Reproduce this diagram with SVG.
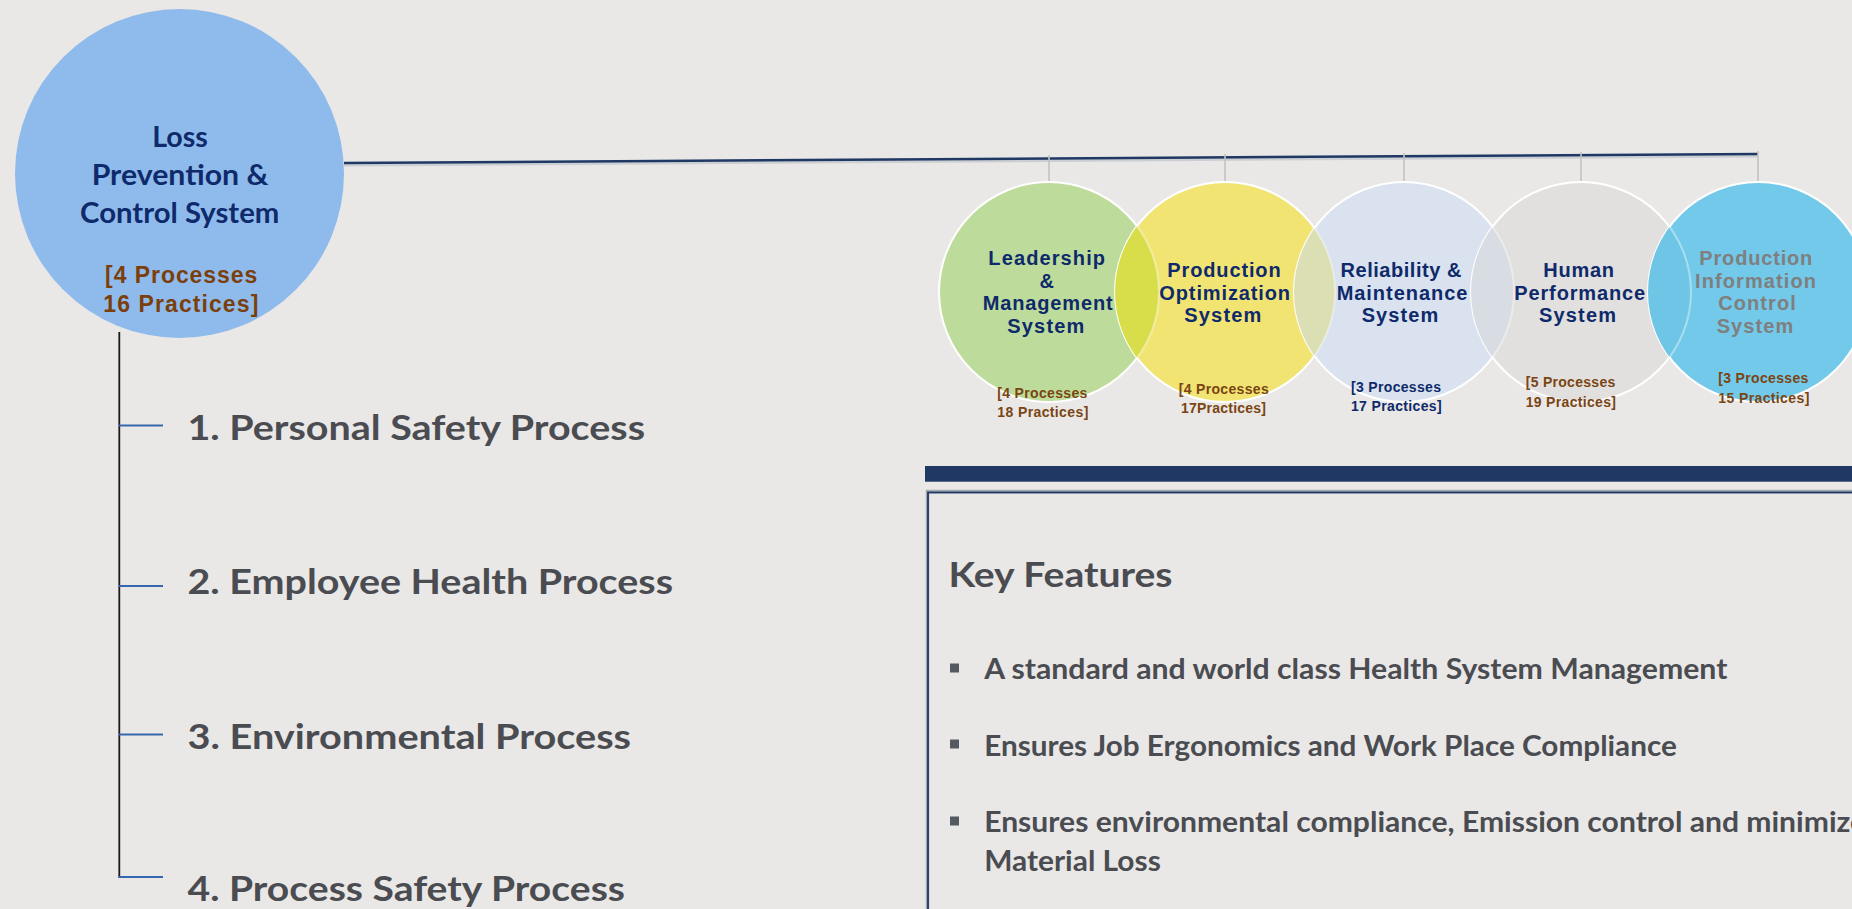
<svg xmlns="http://www.w3.org/2000/svg" width="1852" height="909" viewBox="0 0 1852 909">
<style>
.bg{fill:#E9E8E6}
.cal{font-family:Lato,"Open Sans","Noto Sans",sans-serif;font-weight:bold}
.ari{font-family:"Liberation Sans",Arial,sans-serif;font-weight:bold}
.navy{fill:#0F2A6B}
.brown{fill:#7A4513}
.dbrown{fill:#7A3F0C}
.gray{fill:#4A4C52}
.ring{stroke:#FFFFFF;stroke-width:2}
.stem{stroke:#C2C2C2;stroke-width:1.6}
.tick{stroke:#3566B0;stroke-width:1.8}
</style>
<defs>
<clipPath id="k1"><circle cx="1049" cy="292" r="110"/></clipPath>
<clipPath id="k2"><circle cx="1225" cy="292" r="110"/></clipPath>
<clipPath id="k3"><circle cx="1404" cy="292" r="110"/></clipPath>
<clipPath id="k4"><circle cx="1581" cy="292" r="110"/></clipPath>
<clipPath id="k5"><circle cx="1758" cy="292" r="110"/></clipPath>
</defs>
<rect class="bg" x="0" y="0" width="1852" height="909"/>

<g id="connectors" fill="none">
<line x1="344" y1="165" x2="1758" y2="156" stroke="#B8BCC4" stroke-width="3" opacity="0.6"/>
<line x1="344" y1="163" x2="1758" y2="154" stroke="#1F3864" stroke-width="2.5"/>
<line class="stem" x1="1049" y1="155" x2="1049" y2="189"/>
<line class="stem" x1="1225" y1="154" x2="1225" y2="189"/>
<line class="stem" x1="1404" y1="153" x2="1404" y2="189"/>
<line class="stem" x1="1581" y1="152" x2="1581" y2="189"/>
<line class="stem" x1="1758" y1="151" x2="1758" y2="189"/>
<line x1="119.3" y1="332" x2="119.3" y2="878" stroke="#1A1A1A" stroke-width="1.8"/>
<line class="tick" x1="119" y1="425.5" x2="163" y2="425.5"/>
<line class="tick" x1="119" y1="586" x2="163" y2="586"/>
<line class="tick" x1="119" y1="734.5" x2="163" y2="734.5"/>
<line class="tick" x1="119" y1="877" x2="163" y2="877"/>
</g>

<g id="node-main">
<circle cx="179.5" cy="173.5" r="164.5" fill="#8FBBEC"/>
<text class="cal navy" x="180" y="146.7" font-size="28" text-anchor="middle" textLength="55.7" lengthAdjust="spacingAndGlyphs">Loss</text>
<text class="cal navy" x="180" y="185" font-size="28" text-anchor="middle" textLength="176.7" lengthAdjust="spacingAndGlyphs">Prevention &amp;</text>
<text class="cal navy" x="179.7" y="222.7" font-size="28" text-anchor="middle" textLength="199.3" lengthAdjust="spacingAndGlyphs">Control System</text>
<text class="ari dbrown" x="181.2" y="282.7" font-size="23" text-anchor="middle" textLength="152.3" lengthAdjust="spacing">[4 Processes</text>
<text class="ari dbrown" x="180.8" y="311.7" font-size="23" text-anchor="middle" textLength="155" lengthAdjust="spacing">16 Practices]</text>
</g>

<g id="circles-base">
<circle class="ring" cx="1049" cy="292" r="110" fill="#BDDC9B"/>
<circle class="ring" cx="1225" cy="292" r="110" fill="#F1E473"/>
<circle class="ring" cx="1404" cy="292" r="110" fill="#D9E2EE"/>
<circle class="ring" cx="1581" cy="292" r="110" fill="#E1E0DE"/>
<circle class="ring" cx="1758" cy="292" r="110" fill="#72C9E9"/>
<circle cx="1225" cy="292" r="110" fill="#D8DE4A" clip-path="url(#k1)"/>
<circle cx="1404" cy="292" r="110" fill="#DCDFB4" clip-path="url(#k2)"/>
<circle cx="1581" cy="292" r="110" fill="#D8DCE3" clip-path="url(#k3)"/>
<circle cx="1758" cy="292" r="110" fill="#6EC5E5" clip-path="url(#k4)"/>
<circle cx="1049" cy="292" r="110" fill="none" stroke="#FFFFFF" stroke-width="2" opacity="0.4" clip-path="url(#k2)"/>
<circle cx="1225" cy="292" r="110" fill="none" stroke="#FFFFFF" stroke-width="2" opacity="0.4" clip-path="url(#k3)"/>
<circle cx="1404" cy="292" r="110" fill="none" stroke="#FFFFFF" stroke-width="2" opacity="0.4" clip-path="url(#k4)"/>
<circle cx="1581" cy="292" r="110" fill="none" stroke="#FFFFFF" stroke-width="2" opacity="0.4" clip-path="url(#k5)"/>
</g>

<g id="node-leadership">
<text class="ari navy" x="1046.7" y="265" font-size="20" text-anchor="middle" textLength="116.7" lengthAdjust="spacing">Leadership</text>
<text class="ari navy" x="1046.7" y="288.3" font-size="20" text-anchor="middle">&amp;</text>
<text class="ari navy" x="1047.7" y="310" font-size="20" text-anchor="middle" textLength="130" lengthAdjust="spacing">Management</text>
<text class="ari navy" x="1045.8" y="332.7" font-size="20" text-anchor="middle" textLength="77" lengthAdjust="spacing">System</text>
<text class="ari brown" x="1042.3" y="398.3" font-size="14" text-anchor="middle" textLength="90" lengthAdjust="spacing">[4 Processes</text>
<text class="ari brown" x="1042.8" y="417.3" font-size="14" text-anchor="middle" textLength="91" lengthAdjust="spacing">18 Practices]</text>
</g>

<g id="node-production-optimization">
<text class="ari navy" x="1224" y="276.7" font-size="20" text-anchor="middle" textLength="113.3" lengthAdjust="spacing">Production</text>
<text class="ari navy" x="1224.7" y="300" font-size="20" text-anchor="middle" textLength="130.7" lengthAdjust="spacing">Optimization</text>
<text class="ari navy" x="1222.8" y="321.7" font-size="20" text-anchor="middle" textLength="77" lengthAdjust="spacing">System</text>
<text class="ari brown" x="1223.7" y="394" font-size="14" text-anchor="middle" textLength="90" lengthAdjust="spacing">[4 Processes</text>
<text class="ari brown" x="1223.5" y="412.7" font-size="14" text-anchor="middle" textLength="85" lengthAdjust="spacing">17Practices]</text>
</g>

<g id="node-reliability">
<text class="ari navy" x="1401" y="276.7" font-size="20" text-anchor="middle" textLength="121" lengthAdjust="spacing">Reliability &amp;</text>
<text class="ari navy" x="1402" y="300" font-size="20" text-anchor="middle" textLength="130.7" lengthAdjust="spacing">Maintenance</text>
<text class="ari navy" x="1400" y="321.7" font-size="20" text-anchor="middle" textLength="76.7" lengthAdjust="spacing">System</text>
<text class="ari navy" x="1396" y="391.7" font-size="14" text-anchor="middle" textLength="90" lengthAdjust="spacing">[3 Processes</text>
<text class="ari navy" x="1396.3" y="410.7" font-size="14" text-anchor="middle" textLength="90.7" lengthAdjust="spacing">17 Practices]</text>
</g>

<g id="node-human-performance">
<text class="ari navy" x="1578.7" y="276.7" font-size="20" text-anchor="middle" textLength="70.7" lengthAdjust="spacing">Human</text>
<text class="ari navy" x="1579.7" y="300" font-size="20" text-anchor="middle" textLength="130.7" lengthAdjust="spacing">Performance</text>
<text class="ari navy" x="1577.5" y="321.7" font-size="20" text-anchor="middle" textLength="77" lengthAdjust="spacing">System</text>
<text class="ari brown" x="1570.5" y="386.7" font-size="14" text-anchor="middle" textLength="89.6" lengthAdjust="spacing">[5 Processes</text>
<text class="ari brown" x="1570.8" y="406.7" font-size="14" text-anchor="middle" textLength="90.3" lengthAdjust="spacing">19 Practices]</text>
</g>

<g id="node-production-information">
<text class="ari" fill="#7F7F7F" x="1755.8" y="265" font-size="20" text-anchor="middle" textLength="113" lengthAdjust="spacing">Production</text>
<text class="ari" fill="#7F7F7F" x="1755.5" y="288.3" font-size="20" text-anchor="middle" textLength="121" lengthAdjust="spacing">Information</text>
<text class="ari" fill="#7F7F7F" x="1757" y="310" font-size="20" text-anchor="middle" textLength="77.7" lengthAdjust="spacing">Control</text>
<text class="ari" fill="#7F7F7F" x="1755" y="332.7" font-size="20" text-anchor="middle" textLength="76.7" lengthAdjust="spacing">System</text>
<text class="ari brown" x="1763.3" y="383.3" font-size="14" text-anchor="middle" textLength="90" lengthAdjust="spacing">[3 Processes</text>
<text class="ari brown" x="1763.8" y="402.7" font-size="14" text-anchor="middle" textLength="91" lengthAdjust="spacing">15 Practices]</text>
</g>

<g id="node-personal-safety">
<text class="cal gray" x="187.5" y="440" font-size="35" textLength="457.5" lengthAdjust="spacingAndGlyphs">1. Personal Safety Process</text>
</g>
<g id="node-employee-health">
<text class="cal gray" x="187.5" y="594" font-size="35" textLength="485.5" lengthAdjust="spacingAndGlyphs">2. Employee Health Process</text>
</g>
<g id="node-environmental">
<text class="cal gray" x="187.5" y="749" font-size="35" textLength="443.5" lengthAdjust="spacingAndGlyphs">3. Environmental Process</text>
</g>
<g id="node-process-safety">
<text class="cal gray" x="187.5" y="900.5" font-size="35" textLength="437.5" lengthAdjust="spacingAndGlyphs">4. Process Safety Process</text>
</g>

<g id="key-features-panel">
<rect x="925" y="466" width="940" height="15.7" fill="#1F3864"/>
<rect x="927.5" y="491.5" width="940" height="440" fill="none" stroke="#A3AAB4" stroke-width="3.5"/>
<rect x="928" y="492.5" width="940" height="440" fill="none" stroke="#1F3864" stroke-width="1.8"/>
<text class="cal gray" x="948.5" y="586.7" font-size="35" textLength="224" lengthAdjust="spacingAndGlyphs">Key Features</text>
<rect x="950" y="663.5" width="9" height="9" fill="#555A60"/>
<rect x="950" y="739.5" width="9" height="9" fill="#555A60"/>
<rect x="950" y="816.5" width="9" height="9" fill="#555A60"/>
<text class="cal gray" x="984.2" y="679.3" font-size="28" textLength="743.2" lengthAdjust="spacingAndGlyphs">A standard and world class Health System Management</text>
<text class="cal gray" x="984.2" y="756" font-size="28" textLength="692.6" lengthAdjust="spacingAndGlyphs">Ensures Job Ergonomics and Work Place Compliance</text>
<text class="cal gray" x="984.2" y="832.3" font-size="28" textLength="882" lengthAdjust="spacingAndGlyphs">Ensures environmental compliance, Emission control and minimize</text>
<text class="cal gray" x="984.2" y="870.7" font-size="28" textLength="176.6" lengthAdjust="spacingAndGlyphs">Material Loss</text>
</g>
</svg>
